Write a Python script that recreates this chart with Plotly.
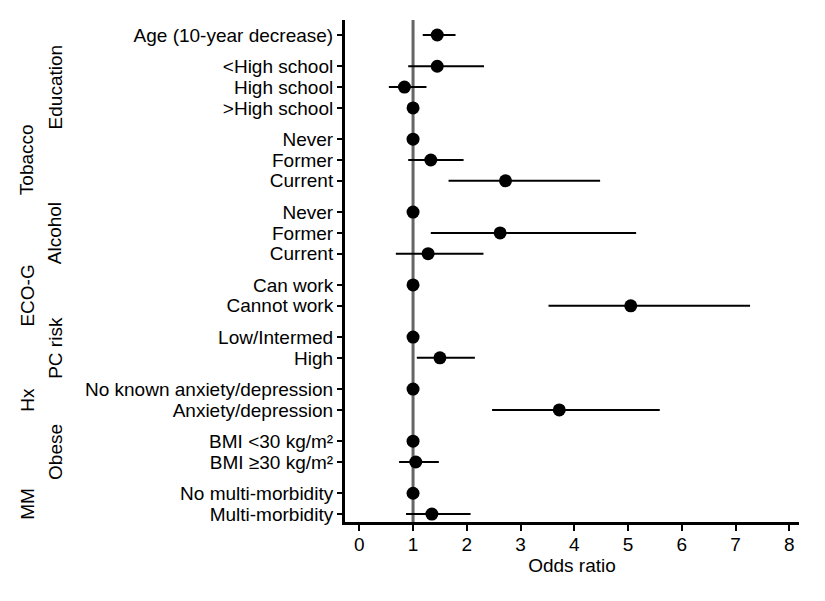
import plotly.graph_objects as go

# ---- data ----
row_labels = [
    "Age (10-year decrease)",
    "<High school", "High school", ">High school",
    "Never", "Former", "Current",
    "Never", "Former", "Current",
    "Can work", "Cannot work",
    "Low/Intermed", "High",
    "No known anxiety/depression", "Anxiety/depression",
    "BMI <30 kg/m²", "BMI ≥30 kg/m²",
    "No multi-morbidity", "Multi-morbidity",
]
row_groups = [
    "",
    "Education", "Education", "Education",
    "Tobacco", "Tobacco", "Tobacco",
    "Alcohol", "Alcohol", "Alcohol",
    "ECO-G", "ECO-G",
    "PC risk", "PC risk",
    "Hx", "Hx",
    "Obese", "Obese",
    "MM", "MM",
]
odds_ratio = [1.45, 1.45, 0.84, 1.0, 1.0, 1.33, 2.72, 1.0, 2.62, 1.28,
              1.0, 5.05, 1.0, 1.50, 1.0, 3.72, 1.0, 1.05, 1.0, 1.35]
ci_low = [1.18, 0.91, 0.55, None, None, 0.91, 1.66, None, 1.33, 0.68,
          None, 3.52, None, 1.07, None, 2.47, None, 0.74, None, 0.87]
ci_high = [1.79, 2.32, 1.25, None, None, 1.94, 4.48, None, 5.15, 2.31,
           None, 7.27, None, 2.15, None, 5.59, None, 1.48, None, 2.07]
x_ticks = [0, 1, 2, 3, 4, 5, 6, 7, 8]

# ---- row positions: 1 unit within a group, 1.5 between groups ----
ypos = []
p = 0.0
for i, g in enumerate(row_groups):
    if i > 0:
        p += 1.0 if g == row_groups[i - 1] else 1.5
    ypos.append(p)

err_plus = [(h - o) if h is not None else 0 for h, o in zip(ci_high, odds_ratio)]
err_minus = [(o - l) if l is not None else 0 for l, o in zip(ci_low, odds_ratio)]

FONT = "Liberation Sans, Arial, Helvetica, sans-serif"

fig = go.Figure()
fig.add_trace(go.Scatter(
    x=odds_ratio, y=ypos, mode="markers",
    marker=dict(size=13, color="black"),
    error_x=dict(type="data", array=err_plus, arrayminus=err_minus,
                 symmetric=False, width=0, thickness=2, color="black"),
    showlegend=False, hoverinfo="skip",
))

# reference line at OR = 1
fig.add_shape(type="line", xref="x", yref="paper", x0=1, x1=1, y0=0, y1=1,
              line=dict(color="#666666", width=3), layer="below")

# group labels
group_names = []
for g in row_groups:
    if g and g not in group_names:
        group_names.append(g)
for k, g in enumerate(group_names):
    ys = [y for y, gg in zip(ypos, row_groups) if gg == g]
    fig.add_annotation(
        text=g, xref="paper", yref="y",
        x=-0.638 if k % 2 == 0 else -0.700,
        y=sum(ys) / len(ys), textangle=-90, showarrow=False,
        xanchor="center", yanchor="middle",
        font=dict(size=19, color="black", family=FONT),
    )

fig.update_layout(
    width=825, height=601,
    margin=dict(l=337, r=34, t=12, b=87),
    paper_bgcolor="white", plot_bgcolor="white",
    font=dict(family=FONT, size=19, color="black"),
    xaxis=dict(
        range=[-0.266, 8.18], tickvals=x_ticks, ticktext=[str(t) for t in x_ticks],
        showgrid=False, zeroline=False, showline=True, linecolor="black", linewidth=3,
        ticks="outside", ticklen=6, tickwidth=2, tickcolor="black",
        ticklabelstandoff=-3,
        title=dict(text="Odds ratio", font=dict(size=19), standoff=3),
        tickfont=dict(size=19),
    ),
    yaxis=dict(
        range=[23.38, -0.72], tickvals=ypos, ticktext=row_labels,
        showgrid=False, zeroline=False, showline=True, linecolor="black", linewidth=3,
        ticks="outside", ticklen=5, tickwidth=2, tickcolor="black",
        tickfont=dict(size=19),
    ),
)

fig.write_html("out.html")
